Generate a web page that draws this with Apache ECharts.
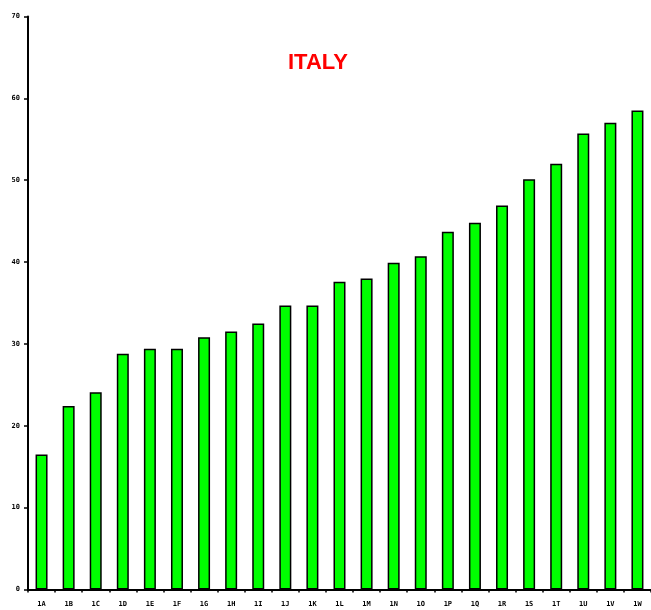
<!DOCTYPE html>
<html>
<head>
<meta charset="utf-8">
<script src="https://cdn.jsdelivr.net/npm/echarts@6/dist/echarts.min.js"></script>
<style>html,body{margin:0;padding:0;background:#fff;}#c{width:651px;height:610px;}</style>
</head>
<body>
<div id="c"></div>
<script>
const categories = ['1A','1B','1C','1D','1E','1F','1G','1H','1I','1J','1K','1L','1M','1N','1O','1P','1Q','1R','1S','1T','1U','1V','1W'];
const values = [16.5,22.4,24.1,28.8,29.4,29.4,30.8,31.5,32.5,34.7,34.7,37.6,38.0,39.9,40.7,43.7,44.8,46.9,50.1,52.0,55.7,57.0,58.5];
const yTicks = [0,10,20,30,40,50,60,70];
const titleText = 'ITALY';

const chart = echarts.init(document.getElementById('c'), null, {renderer:'canvas'});
chart.setOption({
  backgroundColor: '#ffffff',
  animation: false,
  title: {
    text: titleText,
    left: 283, top: 47,
    textStyle: {color: '#ff0000', fontSize: 22, fontWeight: 'bold', fontFamily: 'Liberation Sans, Arial, sans-serif'}
  },
  grid: {left: 28, right: -5, top: 16.4, bottom: 20.5, containLabel: false},
  xAxis: {
    type: 'category',
    data: categories,
    axisLine: {lineStyle: {color: '#000', width: 2}},
    axisTick: {show: true, length: 3, lineStyle: {color: '#000', width: 1.5}},
    axisLabel: {color: '#000', fontSize: 7, fontWeight: 'bold', margin: 11, fontFamily: 'DejaVu Sans Mono, monospace'}
  },
  yAxis: {
    type: 'value',
    min: 0, max: yTicks[yTicks.length-1], interval: 10,
    splitLine: {show: false},
    axisLine: {show: true, lineStyle: {color: '#000', width: 2}},
    axisTick: {show: true, length: 4, lineStyle: {color: '#000', width: 1.5}},
    axisLabel: {color: '#000', fontSize: 7, fontWeight: 'bold', margin: 8, fontFamily: 'DejaVu Sans Mono, monospace'}
  },
  series: [{
    type: 'bar',
    data: values,
    barWidth: 12,
    itemStyle: {color: '#00ff00', borderColor: '#000', borderWidth: 1.5}
  }]
});
</script>
</body>
</html>
